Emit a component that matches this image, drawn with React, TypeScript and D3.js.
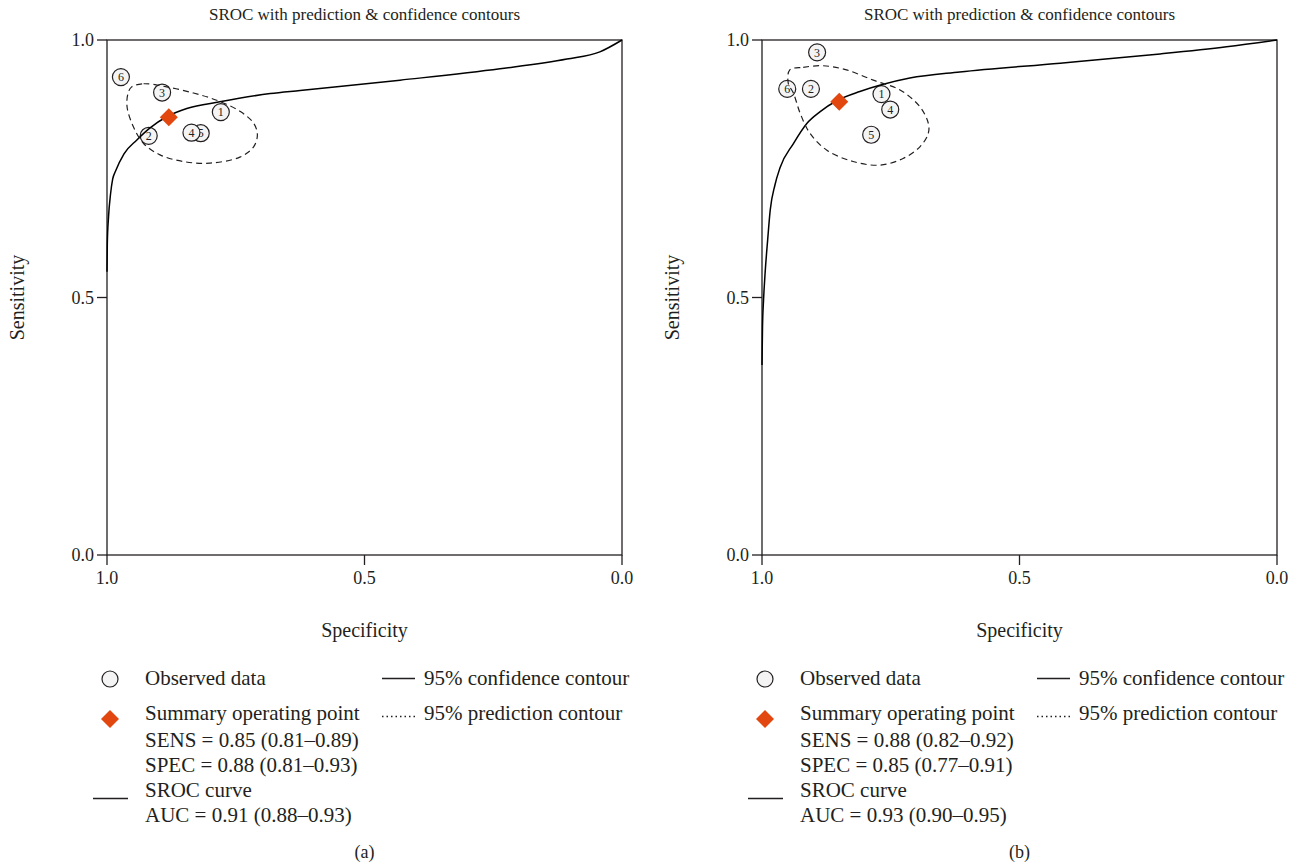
import React from "react";
import * as d3 from "d3";

// observed studies (specificity, sensitivity)
const studyIds = [1, 2, 3, 4, 5, 6];
const specA = [0.779, 0.919, 0.893, 0.836, 0.818, 0.973];
const sensA = [0.86, 0.814, 0.898, 0.82, 0.819, 0.928];
const specB = [0.768, 0.905, 0.893, 0.751, 0.788, 0.951];
const sensB = [0.895, 0.905, 0.976, 0.865, 0.816, 0.905];

// summary operating point
const summaryA = { spec: 0.88, sens: 0.85 };
const summaryB = { spec: 0.85, sens: 0.88 };

// SROC curves
const srocSpecA = [1.0, 0.9994, 0.997, 0.993, 0.989, 0.984, 0.967, 0.942, 0.917, 0.884, 0.845, 0.781, 0.683, 0.625, 0.431, 0.237, 0.107, 0.043, 0.0];
const srocSensA = [0.55, 0.605, 0.657, 0.702, 0.73, 0.744, 0.779, 0.806, 0.829, 0.851, 0.867, 0.88, 0.896, 0.902, 0.922, 0.944, 0.963, 0.977, 1.0];
const srocSpecB = [1.0, 0.999, 0.997, 0.994, 0.989, 0.984, 0.975, 0.965, 0.939, 0.913, 0.887, 0.855, 0.81, 0.768, 0.713, 0.616, 0.421, 0.227, 0.098, 0.0];
const srocSensB = [0.369, 0.443, 0.495, 0.547, 0.612, 0.67, 0.718, 0.752, 0.799, 0.838, 0.861, 0.882, 0.9, 0.913, 0.926, 0.938, 0.955, 0.973, 0.987, 1.0];

// 95% prediction contours
const predSpecA = [0.952, 0.929, 0.884, 0.832, 0.787, 0.741, 0.715, 0.708, 0.715, 0.741, 0.8, 0.852, 0.897, 0.929, 0.949, 0.961, 0.959];
const predSensA = [0.909, 0.915, 0.909, 0.897, 0.883, 0.861, 0.838, 0.816, 0.793, 0.773, 0.761, 0.764, 0.777, 0.799, 0.832, 0.87, 0.897];
const predSpecB = [0.946, 0.92, 0.881, 0.836, 0.784, 0.732, 0.693, 0.677, 0.677, 0.693, 0.726, 0.771, 0.823, 0.874, 0.907, 0.926, 0.939, 0.949];
const predSensB = [0.942, 0.947, 0.95, 0.942, 0.922, 0.903, 0.87, 0.838, 0.819, 0.793, 0.77, 0.757, 0.764, 0.786, 0.819, 0.858, 0.897, 0.916];

const axisTicks = [0, 0.5, 1];

const legendA = { sens: "SENS = 0.85 (0.81–0.89)", spec: "SPEC = 0.88 (0.81–0.93)", auc: "AUC = 0.91 (0.88–0.93)", tag: "(a)" };
const legendB = { sens: "SENS = 0.88 (0.82–0.92)", spec: "SPEC = 0.85 (0.77–0.91)", auc: "AUC = 0.93 (0.90–0.95)", tag: "(b)" };

const FONT = "'Liberation Serif', 'DejaVu Serif', serif";
const ORANGE = "#E2470F";
const INK = "#231f20";

type PanelProps = {
  left: number;
  spec: number[];
  sens: number[];
  summary: { spec: number; sens: number };
  srocSpec: number[];
  srocSens: number[];
  predSpec: number[];
  predSens: number[];
  legend: { sens: string; spec: string; auc: string; tag: string };
};

const Panel = ({ left, spec, sens, summary, srocSpec, srocSens, predSpec, predSens, legend }: PanelProps) => {
  const top = 40;
  const size = 515;
  const x = d3.scaleLinear().domain([1, 0]).range([left, left + size]);
  const y = d3.scaleLinear().domain([0, 1]).range([top + size, top]);
  const cx = left + size / 2;

  const srocPath = d3.line<[number, number]>()
    .x(d => x(d[0])).y(d => y(d[1]))
    .curve(d3.curveMonotoneX)(srocSpec.map((s, i) => [s, srocSens[i]] as [number, number])) || "";
  const predPath = d3.line<[number, number]>()
    .x(d => x(d[0])).y(d => y(d[1]))
    .curve(d3.curveCatmullRomClosed)(predSpec.map((s, i) => [s, predSens[i]] as [number, number])) || "";

  // reversed so that 4 sits on top of 5
  const studies = studyIds.map((id, i) => ({ id, sx: x(spec[i]), sy: y(sens[i]) })).reverse();
  const dx = x(summary.spec);
  const dy = y(summary.sens);

  const lx = left + 3; // legend icon x
  const tx = left + 38; // legend text x
  const rx = left + 275; // right legend column
  const fs = 21;

  return (
    <g fontFamily={FONT} fill={INK}>
      <text x={cx} y={20} fontSize={17} textAnchor="middle">SROC with prediction &amp; confidence contours</text>
      <rect x={left} y={top} width={size} height={size} fill="none" stroke={INK} strokeWidth={1.3} />
      {axisTicks.map(t => (
        <g key={"y" + t}>
          <line x1={left - 10} x2={left} y1={y(t)} y2={y(t)} stroke={INK} strokeWidth={1.3} />
          <text x={left - 13} y={y(t)} dy="0.35em" fontSize={18} textAnchor="end">{t.toFixed(1)}</text>
        </g>
      ))}
      {axisTicks.map(t => (
        <g key={"x" + t}>
          <line x1={x(t)} x2={x(t)} y1={top + size} y2={top + size + 10} stroke={INK} strokeWidth={1.3} />
          <text x={x(t)} y={top + size + 29} fontSize={18} textAnchor="middle">{t.toFixed(1)}</text>
        </g>
      ))}
      <text x={cx} y={637} fontSize={20} textAnchor="middle">Specificity</text>
      <text transform={`translate(${left - 83},${y(0.5)}) rotate(-90)`} fontSize={20} textAnchor="middle">Sensitivity</text>

      {studies.map(d => (
        <g key={d.id} transform={`translate(${d.sx},${d.sy})`}>
          <circle r={8.5} fill="#f4f4f4" stroke={INK} strokeWidth={1.2} />
          <text fontSize={12} textAnchor="middle" dy="0.35em">{d.id}</text>
        </g>
      ))}
      <path d={srocPath} fill="none" stroke="#000" strokeWidth={1.5} />
      <path d={predPath} fill="none" stroke={INK} strokeWidth={1.2} strokeDasharray="6 4" />
      <path d={`M${dx},${dy - 9}L${dx + 9},${dy}L${dx},${dy + 9}L${dx - 9},${dy}Z`} fill={ORANGE} />

      {/* legend */}
      <circle cx={lx} cy={679} r={8} fill="#f4f4f4" stroke={INK} strokeWidth={1.2} />
      <text x={tx} y={678} dy="0.35em" fontSize={fs}>Observed data</text>
      <line x1={rx} x2={rx + 33} y1={678.5} y2={678.5} stroke={INK} strokeWidth={1.3} />
      <text x={rx + 42} y={678} dy="0.35em" fontSize={fs}>95% confidence contour</text>

      <path d={`M${lx},${710}L${lx + 9},${719}L${lx},${728}L${lx - 9},${719}Z`} fill={ORANGE} />
      <text x={tx} y={713} dy="0.35em" fontSize={fs}>Summary operating point</text>
      <line x1={rx} x2={rx + 33} y1={716.5} y2={716.5} stroke={INK} strokeWidth={1.3} strokeDasharray="1.5 3" />
      <text x={rx + 42} y={713} dy="0.35em" fontSize={fs}>95% prediction contour</text>
      <text x={tx} y={740} dy="0.35em" fontSize={fs}>{legend.sens}</text>
      <text x={tx} y={765} dy="0.35em" fontSize={fs}>{legend.spec}</text>
      <line x1={left - 14} x2={left + 21} y1={798.5} y2={798.5} stroke={INK} strokeWidth={1.3} />
      <text x={tx} y={790} dy="0.35em" fontSize={fs}>SROC curve</text>
      <text x={tx} y={815} dy="0.35em" fontSize={fs}>{legend.auc}</text>
      <text x={cx} y={852} dy="0.35em" fontSize={18} textAnchor="middle">{legend.tag}</text>
    </g>
  );
};

export default function App() {
  return (
    <svg width={1300} height={867} style={{ position: "absolute", left: 0, top: 0, background: "#fff" }}>
      <rect width={1300} height={867} fill="#fff" />
      <Panel left={107} spec={specA} sens={sensA} summary={summaryA} srocSpec={srocSpecA} srocSens={srocSensA}
        predSpec={predSpecA} predSens={predSensA} legend={legendA} />
      <Panel left={762} spec={specB} sens={sensB} summary={summaryB} srocSpec={srocSpecB} srocSens={srocSensB}
        predSpec={predSpecB} predSens={predSensB} legend={legendB} />
    </svg>
  );
}
